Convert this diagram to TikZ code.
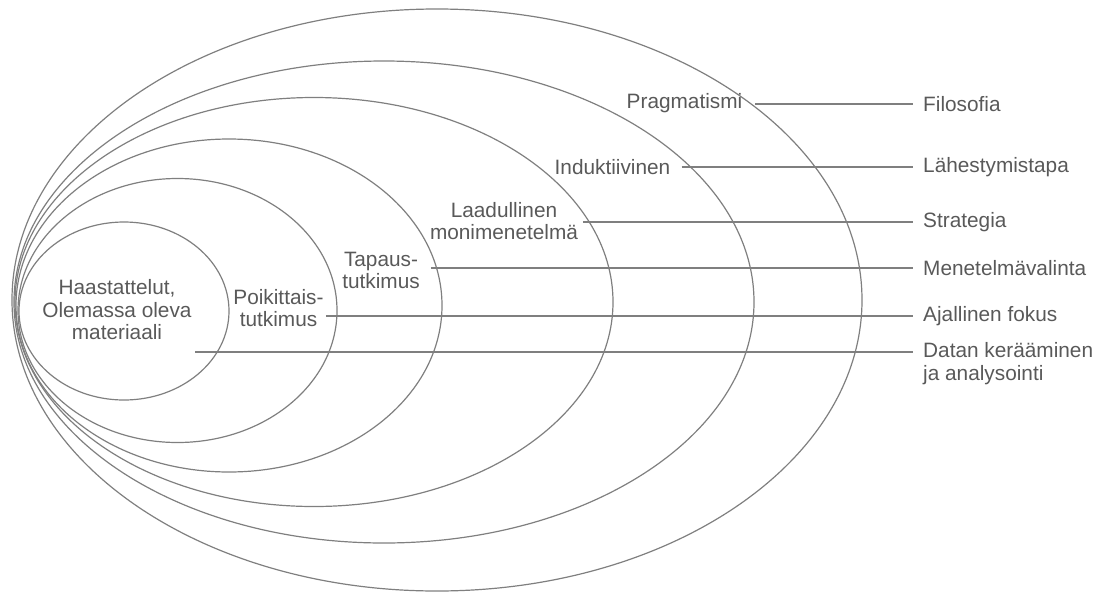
\documentclass[tikz,border=0pt]{standalone}
\usepackage{fontspec}
\setmainfont{Liberation Sans}
\definecolor{ringgray}{HTML}{7F7F7F}
\definecolor{textgray}{HTML}{595959}
\tikzset{
    ring/.style={draw=ringgray, line width=1.2pt},
    link/.style={draw=ringgray, line width=1.3pt},
    lab/.style={text=textgray, inner sep=0pt, align=center, font=\fontsize{20.8}{22.5}\selectfont},
    side/.style={lab, anchor=west, align=left},
}
\begin{document}
\begin{tikzpicture}[x=1pt, y=-1pt]
            \useasboundingbox (0,0) rectangle (1103,592);

            % Nested ellipses, inner to outer
            \foreach \cx/\cy/\rx/\ry in {124/311/105/89, 177.5/310.5/159.5/132, 229/305.5/213/166.5, 314/302/299/204.5, 384/302/370/241, 437/300/425/291} {
                \draw[ring] (\cx,\cy) ellipse [x radius=\rx, y radius=\ry];
            }

            % Labels inside the ellipses
            \node[lab] (haas) at (117,310) {Haastattelut,\\Olemassa oleva\\materiaali};
            \node[lab] (poik) at (278.5,308) {Poikittais-\\tutkimus};
            \node[lab] (tapaus) at (381,270.5) {Tapaus-\\tutkimus};
            \node[lab] (laad) at (504,221) {Laadullinen\\monimenetelmä};
            \node[lab] (induk) at (612.5,166.7) {Induktiivinen};
            \node[lab] (prag) at (684.5,103.5) {Pragmatismi};

            % Level names on the right
            \node[side] (filo) at (923,104) {Filosofia};
            \node[side] (lahe) at (923,167) {Lähestymistapa};
            \node[side] (strat) at (923,222) {Strategia};
            \node[side] (mene) at (923,268) {Menetelmävalinta};
            \node[side] (ajal) at (923,316) {Ajallinen fokus};
            \node[side] (datan) at (923,363.5) {Datan kerääminen\\ja analysointi};

            % Connecting lines
            \foreach \a/\b/\g in {prag/filo/13, induk/lahe/11, laad/strat/5, tapaus/mene/11, poik/ajal/2} {
                \draw[link, shorten <=\g pt, shorten >=10pt] (\a.east |- \b.west) -- (\b.west);
            }
            \coordinate (dstart) at (195,352);
            \draw[link, shorten >=10pt] (dstart) -- (dstart -| datan.west);

\end{tikzpicture}
\end{document}
